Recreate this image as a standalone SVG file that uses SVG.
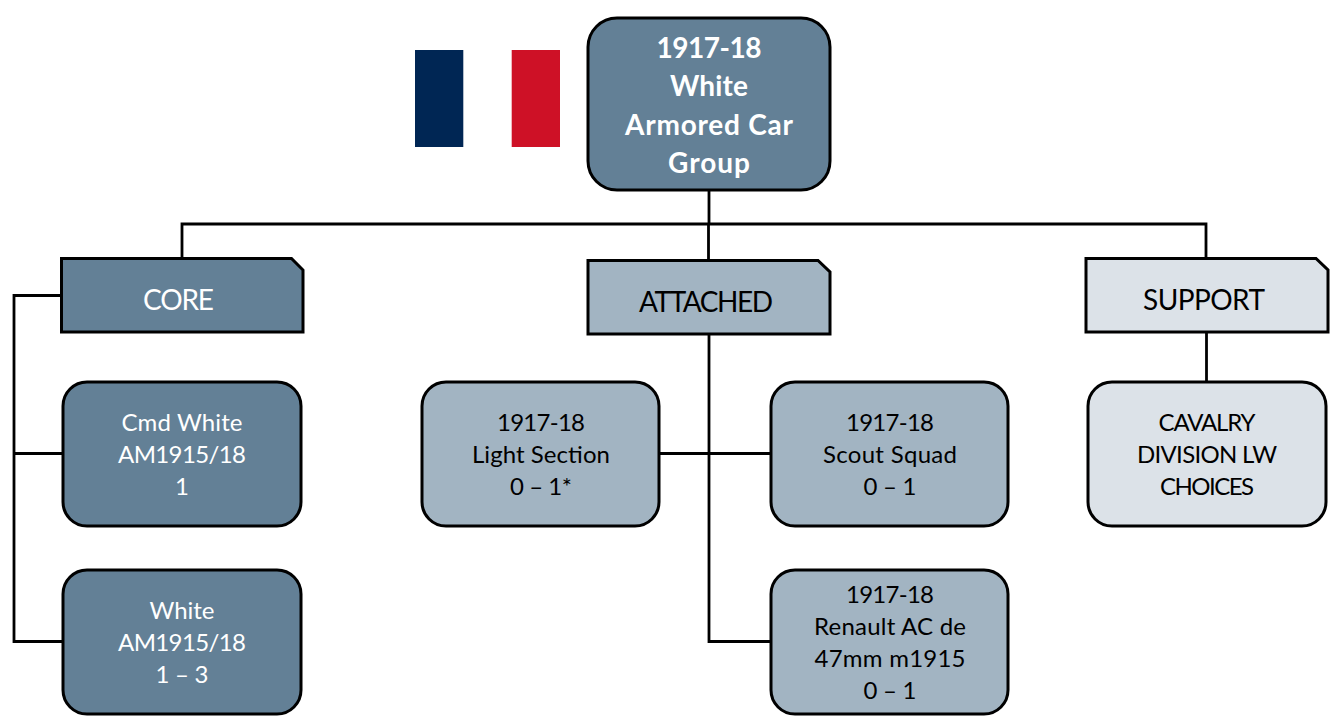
<svg xmlns="http://www.w3.org/2000/svg" width="1333" height="722" viewBox="0 0 1333 722">
<style>
text{font-family:Lato,"Open Sans","Liberation Sans",sans-serif;text-anchor:middle}
.n{stroke:#000;stroke-width:3}
.d{fill:#638096}.m{fill:#a2b4c2}.l{fill:#dce2e8}
.s{font-size:24px}.h{font-size:28px}.t{font-size:28px;font-weight:700;fill:#fff}
.w{fill:#fff}.b{fill:#000}
#connectors path{fill:none;stroke:#000;stroke-width:2.8}
</style>
<rect width="1333" height="722" fill="#fff"/>
<g id="flag"><rect x="415" y="50" width="48.300" height="97" fill="#002654"/><rect x="511.700" y="50" width="48.300" height="97" fill="#ce1126"/></g>
<g id="connectors">
<path d="M709 190V224M182 258V224H1206V258M708.500 224V260"/>
<path d="M61 295.500H14V641.500H63M14 453.500H63"/>
<path d="M709 334V641.500H771M660 453.500H771"/>
<path d="M1206.500 332V382"/>
</g>
<g id="top"><rect class="n d" x="588" y="18" width="242" height="172" rx="29"/>
<text class="t" x="709" y="58" textLength="105">1917-18</text><text class="t" x="709" y="96" textLength="78">White</text><text class="t" x="709" y="135" textLength="168">Armored Car</text><text class="t" x="709" y="173" textLength="82">Group</text></g>
<g id="core"><path class="n d" d="M61.500 258.500H291.500L303 270V332H61.500Z"/><text class="h w" x="178.500" y="310" textLength="71">CORE</text></g>
<g id="attached"><path class="n m" d="M588 260.500H818L830 272V334H588Z"/><text class="h b" x="706" y="312" textLength="134">ATTACHED</text></g>
<g id="support"><path class="n l" d="M1086 258.500H1316L1328 270V332H1086Z"/><text class="h b" x="1204" y="310" textLength="122">SUPPORT</text></g>
<g id="cmd"><rect class="n d" x="63" y="382" width="238" height="144" rx="24"/>
<text class="s w" x="182" y="431" textLength="121">Cmd White</text><text class="s w" x="182" y="463" textLength="128">AM1915/18</text><text class="s w" x="182" y="495">1</text></g>
<g id="white"><rect class="n d" x="63" y="570" width="238" height="144" rx="24"/>
<text class="s w" x="182" y="619" textLength="65">White</text><text class="s w" x="182" y="651" textLength="128">AM1915/18</text><text class="s w" x="182" y="683" textLength="53">1 – 3</text></g>
<g id="light"><rect class="n m" x="422" y="382" width="237" height="144" rx="24"/>
<text class="s b" x="541" y="431" textLength="88">1917-18</text><text class="s b" x="541" y="463" textLength="138">Light Section</text><text class="s b" x="541" y="495" textLength="62">0 – 1*</text></g>
<g id="scout"><rect class="n m" x="771" y="382" width="237" height="144" rx="24"/>
<text class="s b" x="890" y="431" textLength="88">1917-18</text><text class="s b" x="890" y="463" textLength="134">Scout Squad</text><text class="s b" x="890" y="495" textLength="53">0 – 1</text></g>
<g id="renault"><rect class="n m" x="771" y="570" width="237" height="144" rx="24"/>
<text class="s b" x="890" y="603" textLength="88">1917-18</text><text class="s b" x="890" y="635" textLength="152">Renault AC de</text><text class="s b" x="890" y="667" textLength="151">47mm m1915</text><text class="s b" x="890" y="699" textLength="53">0 – 1</text></g>
<g id="cavalry"><rect class="n l" x="1088" y="382" width="238" height="144" rx="24"/>
<text class="s b" x="1207" y="431" textLength="97">CAVALRY</text><text class="s b" x="1207" y="463" textLength="140">DIVISION LW</text><text class="s b" x="1207" y="495" textLength="94">CHOICES</text></g>
</svg>
